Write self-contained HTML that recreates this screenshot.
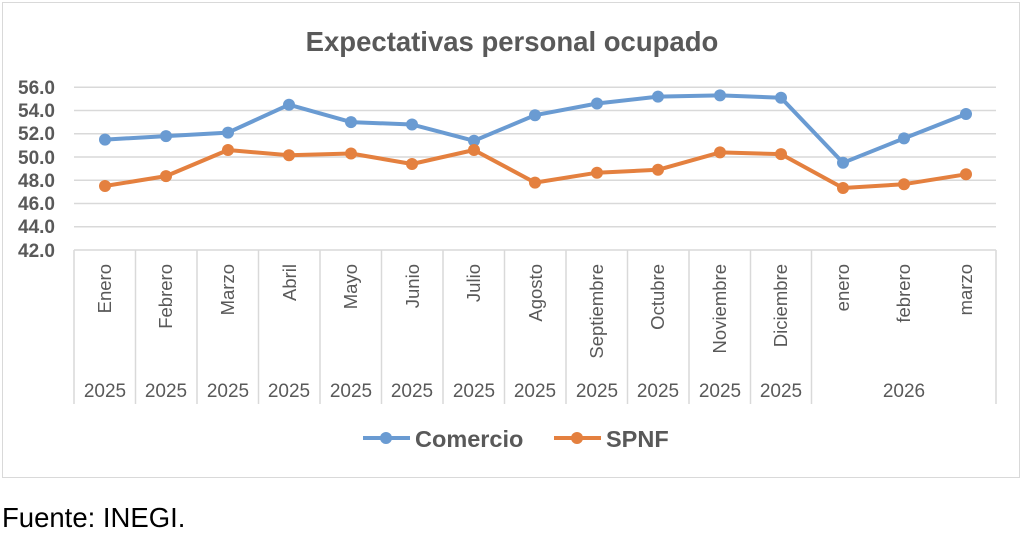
<!DOCTYPE html>
<html><head><meta charset="utf-8"><style>
body{margin:0;background:#fff;width:1024px;height:533px;overflow:hidden;font-family:"Liberation Sans",sans-serif}
</style></head><body>
<svg width="1024" height="533" xmlns="http://www.w3.org/2000/svg" font-family="Liberation Sans, sans-serif">
<rect x="2.5" y="2.5" width="1017" height="475" fill="#fff" stroke="#d9d9d9"/>
<text x="512" y="51" text-anchor="middle" font-size="27.5" font-weight="bold" fill="#595959">Expectativas personal ocupado</text>
<g stroke="#d9d9d9" stroke-width="1.5">
<line x1="74" x2="996" y1="87.3" y2="87.3"/><line x1="74" x2="996" y1="110.5" y2="110.5"/>
<line x1="74" x2="996" y1="133.8" y2="133.8"/><line x1="74" x2="996" y1="157" y2="157"/>
<line x1="74" x2="996" y1="180.2" y2="180.2"/><line x1="74" x2="996" y1="203.5" y2="203.5"/>
<line x1="74" x2="996" y1="226.7" y2="226.7"/><line x1="74" x2="996" y1="250" y2="250"/>
<line x1="74" x2="74" y1="250" y2="404"/><line x1="135.5" x2="135.5" y1="250" y2="404"/>
<line x1="197" x2="197" y1="250" y2="404"/><line x1="258.5" x2="258.5" y1="250" y2="404"/>
<line x1="320" x2="320" y1="250" y2="404"/><line x1="381.5" x2="381.5" y1="250" y2="404"/>
<line x1="443" x2="443" y1="250" y2="404"/><line x1="504.5" x2="504.5" y1="250" y2="404"/>
<line x1="566" x2="566" y1="250" y2="404"/><line x1="627.5" x2="627.5" y1="250" y2="404"/>
<line x1="689" x2="689" y1="250" y2="404"/><line x1="750.5" x2="750.5" y1="250" y2="404"/>
<line x1="811.5" x2="811.5" y1="250" y2="404"/><line x1="996" x2="996" y1="250" y2="404"/>
</g>
<g font-size="19" font-weight="bold" fill="#595959" text-anchor="end">
<text x="55" y="94">56.0</text><text x="55" y="117">54.0</text><text x="55" y="140">52.0</text>
<text x="55" y="164">50.0</text><text x="55" y="187">48.0</text><text x="55" y="210">46.0</text>
<text x="55" y="233">44.0</text><text x="55" y="257">42.0</text>
</g>
<g font-size="18.5" fill="#595959" text-anchor="end">
<text transform="translate(111,264) rotate(-90)">Enero</text>
<text transform="translate(172,264) rotate(-90)">Febrero</text>
<text transform="translate(234,264) rotate(-90)">Marzo</text>
<text transform="translate(296,264) rotate(-90)">Abril</text>
<text transform="translate(357,264) rotate(-90)">Mayo</text>
<text transform="translate(419,264) rotate(-90)">Junio</text>
<text transform="translate(480,264) rotate(-90)">Julio</text>
<text transform="translate(542,264) rotate(-90)">Agosto</text>
<text transform="translate(603,264) rotate(-90)">Septiembre</text>
<text transform="translate(664,264) rotate(-90)">Octubre</text>
<text transform="translate(726,264) rotate(-90)">Noviembre</text>
<text transform="translate(787,264) rotate(-90)">Diciembre</text>
<text transform="translate(849,264) rotate(-90)">enero</text>
<text transform="translate(910,264) rotate(-90)">febrero</text>
<text transform="translate(972,264) rotate(-90)">marzo</text>
</g>
<g font-size="19" fill="#595959" text-anchor="middle">
<text x="105" y="397">2025</text><text x="166" y="397">2025</text><text x="228" y="397">2025</text>
<text x="289" y="397">2025</text><text x="351" y="397">2025</text><text x="412" y="397">2025</text>
<text x="474" y="397">2025</text><text x="535" y="397">2025</text><text x="597" y="397">2025</text>
<text x="658" y="397">2025</text><text x="720" y="397">2025</text><text x="781" y="397">2025</text>
<text x="904" y="397">2026</text>
</g>
<g fill="none" stroke-width="4" stroke-linejoin="round">
<polyline stroke="#6a9bd2" points="105,139.6 166,136.1 228,132.6 289,104.7 351,122.1 412,124.5 474,140.8 535,115.2 597,103.5 658,96.6 720,95.4 781,97.7 843,162.8 904,138.4 966,114"/>
<polyline stroke="#e4803f" points="105,186 166,176.1 228,150 289,155.3 351,153.5 412,164 474,150 535,182.6 597,172.7 658,169.8 720,152.4 781,154.1 843,188 904,184.2 966,174.3"/>
</g>
<g fill="#6a9bd2">
<circle cx="105" cy="139.6" r="6"/><circle cx="166" cy="136.1" r="6"/><circle cx="228" cy="132.6" r="6"/><circle cx="289" cy="104.7" r="6"/><circle cx="351" cy="122.1" r="6"/><circle cx="412" cy="124.5" r="6"/><circle cx="474" cy="140.8" r="6"/><circle cx="535" cy="115.2" r="6"/><circle cx="597" cy="103.5" r="6"/><circle cx="658" cy="96.6" r="6"/><circle cx="720" cy="95.4" r="6"/><circle cx="781" cy="97.7" r="6"/><circle cx="843" cy="162.8" r="6"/><circle cx="904" cy="138.4" r="6"/><circle cx="966" cy="114" r="6"/>
</g>
<g fill="#e4803f">
<circle cx="105" cy="186" r="6"/><circle cx="166" cy="176.1" r="6"/><circle cx="228" cy="150" r="6"/><circle cx="289" cy="155.3" r="6"/><circle cx="351" cy="153.5" r="6"/><circle cx="412" cy="164" r="6"/><circle cx="474" cy="150" r="6"/><circle cx="535" cy="182.6" r="6"/><circle cx="597" cy="172.7" r="6"/><circle cx="658" cy="169.8" r="6"/><circle cx="720" cy="152.4" r="6"/><circle cx="781" cy="154.1" r="6"/><circle cx="843" cy="188" r="6"/><circle cx="904" cy="184.2" r="6"/><circle cx="966" cy="174.3" r="6"/>
</g>
<line x1="363" x2="410" y1="438" y2="438" stroke="#6a9bd2" stroke-width="4"/><circle cx="386" cy="438" r="6" fill="#6a9bd2"/>
<text x="415" y="447" font-size="23.5" font-weight="bold" fill="#595959">Comercio</text>
<line x1="554" x2="601" y1="438" y2="438" stroke="#e4803f" stroke-width="4"/><circle cx="577" cy="438" r="6" fill="#e4803f"/>
<text x="606" y="447" font-size="23.5" font-weight="bold" fill="#595959">SPNF</text>
<text x="2" y="527" font-size="27.5" fill="#000">Fuente: INEGI.</text>
</svg>
</body></html>
